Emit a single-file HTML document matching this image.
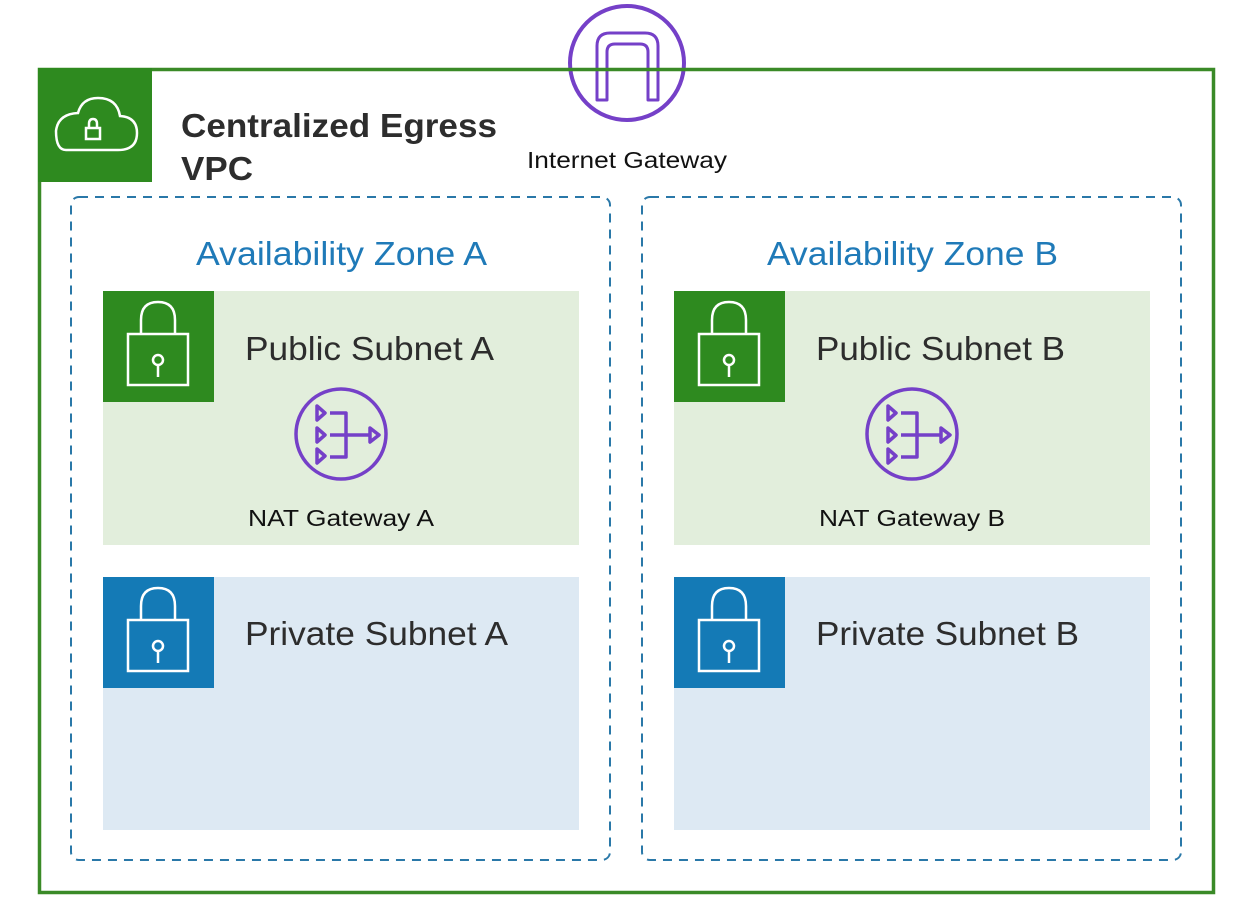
<!DOCTYPE html>
<html><head><meta charset="utf-8"><style>
html,body{margin:0;padding:0;background:#fff;}
svg{display:block;font-family:"Liberation Sans",Arial,sans-serif;}
</style></head><body>
<svg width="1241" height="907" viewBox="0 0 1241 907" xmlns="http://www.w3.org/2000/svg">
<rect x="0" y="0" width="1241" height="907" fill="#fff"/>
<!-- IGW -->
<circle cx="627" cy="63" r="57" fill="#fff" stroke="#7540c8" stroke-width="4"/>
<path d="M597 100 V46 Q597 33 610 33 H645 Q658 33 658 46 V100 H648 V52 Q648 44 640 44 H615 Q607 44 607 52 V100 Z" fill="none" stroke="#7540c8" stroke-width="3" stroke-linejoin="round"/>
<!-- VPC border -->
<rect x="39.5" y="69.5" width="1174" height="823" fill="none" stroke="#3a8a27" stroke-width="3.5"/>
<rect x="38" y="68" width="114" height="114" fill="#2e8a1f"/>
<g fill="none" stroke="#fff" stroke-width="2.5">
<path d="M66 150 H118 Q137 150 137 133 Q137 117 120 116 Q117 98 98 98 Q82 98 78 113 Q58 114 56 131 Q56 150 66 150 Z"/>
<rect x="86" y="128" width="14" height="11"/>
<path d="M89 128 V124 Q89 119 93 119 Q97 119 97 124 V128"/>
</g>
<text x="181" y="137" font-size="33" font-weight="bold" fill="#2d2d2d" textLength="316" lengthAdjust="spacingAndGlyphs">Centralized Egress</text>
<text x="181" y="180" font-size="33" font-weight="bold" fill="#2d2d2d" textLength="72" lengthAdjust="spacingAndGlyphs">VPC</text>
<text x="527" y="168" font-size="23" fill="#111" textLength="200" lengthAdjust="spacingAndGlyphs">Internet Gateway</text>

<g id="az">
<rect x="71" y="197" width="539" height="663" rx="8" fill="none" stroke="#2a78a8" stroke-width="2" stroke-dasharray="9 7"/>
<text x="196" y="265" font-size="33" fill="#1f7ab8" textLength="291" lengthAdjust="spacingAndGlyphs">Availability Zone A</text>
<rect x="103" y="291" width="476" height="254" fill="#e2eedc"/>
<rect x="103" y="291" width="111" height="111" fill="#2e8a1f"/>
<g fill="none" stroke="#fff" stroke-width="2.5">
<rect x="128" y="334" width="60" height="51"/>
<path d="M141 334 V320 Q141 302 158 302 Q175 302 175 320 V334"/>
<circle cx="158" cy="360" r="5"/><path d="M158 365 V377"/>
</g>
<text x="245" y="360" font-size="33" fill="#2d2d2d" textLength="249" lengthAdjust="spacingAndGlyphs">Public Subnet A</text>
<circle cx="341" cy="434" r="45" fill="none" stroke="#7540c8" stroke-width="3.5"/>
<g fill="none" stroke="#7540c8" stroke-width="3.5" stroke-linejoin="round">
<path d="M317 406 L325 413 L317 420 Z"/><path d="M317 428 L325 435 L317 442 Z"/><path d="M317 449 L325 456 L317 463 Z"/>
<path d="M330 413 H346 V457 H330 M330 435 H369"/>
<path d="M370 428 L379 435 L370 442 Z"/>
</g>
<text x="248" y="526" font-size="23" fill="#111" textLength="186" lengthAdjust="spacingAndGlyphs">NAT Gateway A</text>
<rect x="103" y="577" width="476" height="253" fill="#dde9f3"/>
<rect x="103" y="577" width="111" height="111" fill="#147ab6"/>
<g fill="none" stroke="#fff" stroke-width="2.5">
<rect x="128" y="620" width="60" height="51"/>
<path d="M141 620 V606 Q141 588 158 588 Q175 588 175 606 V620"/>
<circle cx="158" cy="646" r="5"/><path d="M158 651 V663"/>
</g>
<text x="245" y="645" font-size="33" fill="#2d2d2d" textLength="263" lengthAdjust="spacingAndGlyphs">Private Subnet A</text>
</g>

<g transform="translate(571,0)">
<rect x="71" y="197" width="539" height="663" rx="8" fill="none" stroke="#2a78a8" stroke-width="2" stroke-dasharray="9 7"/>
<text x="196" y="265" font-size="33" fill="#1f7ab8" textLength="291" lengthAdjust="spacingAndGlyphs">Availability Zone B</text>
<rect x="103" y="291" width="476" height="254" fill="#e2eedc"/>
<rect x="103" y="291" width="111" height="111" fill="#2e8a1f"/>
<g fill="none" stroke="#fff" stroke-width="2.5">
<rect x="128" y="334" width="60" height="51"/>
<path d="M141 334 V320 Q141 302 158 302 Q175 302 175 320 V334"/>
<circle cx="158" cy="360" r="5"/><path d="M158 365 V377"/>
</g>
<text x="245" y="360" font-size="33" fill="#2d2d2d" textLength="249" lengthAdjust="spacingAndGlyphs">Public Subnet B</text>
<circle cx="341" cy="434" r="45" fill="none" stroke="#7540c8" stroke-width="3.5"/>
<g fill="none" stroke="#7540c8" stroke-width="3.5" stroke-linejoin="round">
<path d="M317 406 L325 413 L317 420 Z"/><path d="M317 428 L325 435 L317 442 Z"/><path d="M317 449 L325 456 L317 463 Z"/>
<path d="M330 413 H346 V457 H330 M330 435 H369"/>
<path d="M370 428 L379 435 L370 442 Z"/>
</g>
<text x="248" y="526" font-size="23" fill="#111" textLength="186" lengthAdjust="spacingAndGlyphs">NAT Gateway B</text>
<rect x="103" y="577" width="476" height="253" fill="#dde9f3"/>
<rect x="103" y="577" width="111" height="111" fill="#147ab6"/>
<g fill="none" stroke="#fff" stroke-width="2.5">
<rect x="128" y="620" width="60" height="51"/>
<path d="M141 620 V606 Q141 588 158 588 Q175 588 175 606 V620"/>
<circle cx="158" cy="646" r="5"/><path d="M158 651 V663"/>
</g>
<text x="245" y="645" font-size="33" fill="#2d2d2d" textLength="263" lengthAdjust="spacingAndGlyphs">Private Subnet B</text>
</g>
</svg>
</body></html>
